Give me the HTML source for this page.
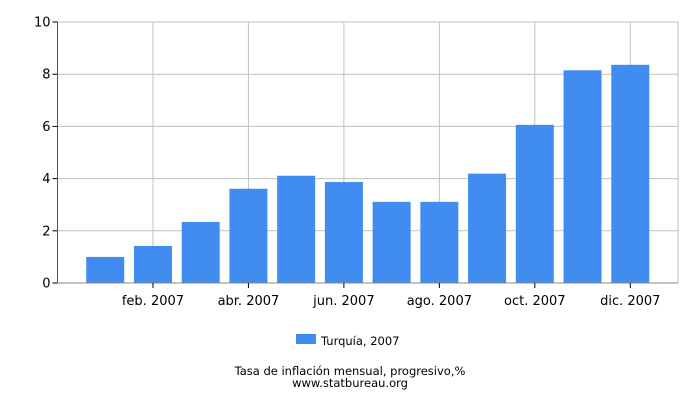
<!DOCTYPE html>
<html><head><meta charset="utf-8"><style>
body{margin:0;background:#fff;font-family:"Liberation Sans","DejaVu Sans",sans-serif}
svg text{font-family:"DejaVu Sans","Liberation Sans",sans-serif}
</style></head><body>
<svg id="chart" width="700" height="400" xmlns="http://www.w3.org/2000/svg"></svg>
<script>
const categories=["ene. 2007","feb. 2007","mar. 2007","abr. 2007","may. 2007","jun. 2007","jul. 2007","ago. 2007","sep. 2007","oct. 2007","nov. 2007","dic. 2007"];
const values=[1.0,1.42,2.34,3.61,4.11,3.87,3.11,3.11,4.19,6.06,8.15,8.36];
const yTicks=[0,2,4,6,8,10];
const xTickIdx=[1,3,5,7,9,11];
const L=57.5,R=678,T=22,B=283,YMAX=10;
const slot=(R-L)/13;
const x=i=>L+(i+1)*slot;
const y=v=>B-(v/YMAX)*(B-T);
const svg=document.getElementById('chart');
const NS="http://www.w3.org/2000/svg";
function mk(tag,attrs,parent){const e=document.createElementNS(NS,tag);for(const k in attrs)e.setAttribute(k,attrs[k]);(parent||svg).appendChild(e);return e;}
// plot frame
const frame=mk('rect',{x:L,y:T,width:R-L,height:B-T,fill:'none',stroke:'#c0c0c0'});


yTicks.forEach(t=>{
  const g=mk('line',{x1:L,x2:R,y1:y(t),y2:y(t),stroke:'#c0c0c0'});
  
  
  const tk=mk('line',{x1:L-5,x2:L,y1:y(t),y2:y(t),stroke:'#000'});
  
  
  const tx=mk('text',{x:L-7,y:y(t)+4.5,'text-anchor':'end','font-size':13,fill:'#000'});
  tx.textContent=t;
  
  
});
xTickIdx.forEach(i=>{
  const g=mk('line',{x1:x(i),x2:x(i),y1:T,y2:B,stroke:'#c0c0c0'});
  
  
});
values.forEach((v,i)=>{
  const b=mk('rect',{x:x(i)-19,y:y(v),width:38,height:B-y(v),fill:'#418cf0'});
  
  
});
const ax=mk('line',{x1:L,x2:L,y1:T,y2:B,stroke:'#555'});


const bx=mk('line',{x1:L,x2:R,y1:B,y2:B,stroke:'#888'});


xTickIdx.forEach(i=>{
  const tk=mk('line',{x1:x(i),x2:x(i),y1:B,y2:B+5,stroke:'#000'});
  
  
  const tx=mk('text',{x:x(i),y:B+22,'text-anchor':'middle','font-size':13,fill:'#000'});
  tx.textContent=categories[i];
  
  
});
const lg=mk('rect',{x:296,y:334,width:20,height:10,fill:'#418cf0'});


const lt=mk('text',{x:321,y:345,'font-size':11.5,fill:'#000'});
lt.textContent='Turquía, 2007';


const t1=mk('text',{x:350,y:375,'text-anchor':'middle','font-size':11.5,fill:'#000'});
t1.textContent='Tasa de inflación mensual, progresivo,%';


const t2=mk('text',{x:350,y:387,'text-anchor':'middle','font-size':11.5,fill:'#000'});
t2.textContent='www.statbureau.org';


</script>
</body></html>
